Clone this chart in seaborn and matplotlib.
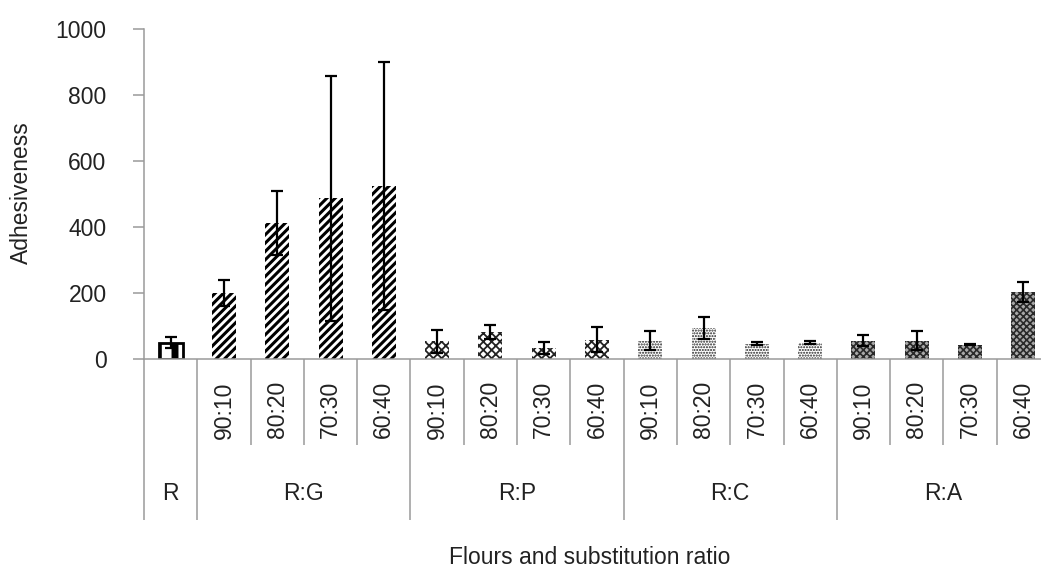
import matplotlib
matplotlib.use("Agg")
import matplotlib.pyplot as plt
import seaborn as sns
import pandas as pd
import numpy as np

# Flour groups and substitution ratios
groups = ["R", "R:G", "R:P", "R:C", "R:A"]
ratios = ["90:10", "80:20", "70:30", "60:40"]

# Adhesiveness means and standard deviations per bar (R first, then each blend)
r_mean, r_sd = [50], [17]
rg_mean, rg_sd = [200, 411, 487, 524], [40, 97, 371, 377]
rp_mean, rp_sd = [54, 83, 34, 58], [35, 21, 18, 38]
rc_mean, rc_sd = [56, 93, 46, 49], [30, 33, 5, 5]
ra_mean, ra_sd = [56, 56, 43, 203], [17, 29, 2, 30]

means = r_mean + rg_mean + rp_mean + rc_mean + ra_mean
sds = r_sd + rg_sd + rp_sd + rc_sd + ra_sd
keys = ["R"] + [f"{g} {r}" for g in groups[1:] for r in ratios]
grp_of = ["R"] + [g for g in groups[1:] for _ in ratios]
tick_text = [""] + ratios * 4

df = pd.DataFrame({"key": keys, "value": means, "sd": sds, "group": grp_of})

sns.set_theme(style="white")
plt.rcParams["font.family"] = ["Liberation Sans", "DejaVu Sans"]
plt.rcParams["hatch.linewidth"] = 1.5

GRAY = "#9a9a9a"
TXT = "#222222"
FS = 16.5

W, H = 1041, 570
fig = plt.figure(figsize=(W / 100, H / 100), dpi=100)
ax = fig.add_axes([144 / W, (H - 359) / H, (1050 - 144) / W, 330 / H])

sns.barplot(data=df, x="key", y="value", order=keys, errorbar=None,
            width=0.45, color="white", ax=ax)

# fill styles per flour group
styles = {
    "R":   dict(face="white", hatch="|", hlw=5.0, edge="black", lw=2.0),
    "R:G": dict(face="white", hatch="////", hlw=2.2, edge="black", lw=0),
    "R:P": dict(face="white", hatch="xxxx", hlw=1.3, edge="#222222", lw=0),
    "R:C": dict(face="white", hatch="......", hlw=1.0, edge="#222222", lw=0),
    "R:A": dict(face="#a8a8a8", hatch="xxxxx", hlw=1.2, edge="#2a2a2a", lw=0),
}
for patch, g in zip(ax.patches, grp_of):
    s = styles[g]
    patch.set_facecolor(s["face"])
    patch.set_edgecolor(s["edge"])
    patch.set_linewidth(s["lw"])
    patch.set_hatch(s["hatch"])
    try:
        patch.set_hatch_linewidth(s["hlw"])
    except AttributeError:
        pass

x = np.arange(len(keys))
ax.errorbar(x, df["value"], yerr=df["sd"], fmt="none", ecolor="black",
            elinewidth=1.6, capsize=4.3, capthick=1.6, zorder=5)

ax.set_xlim(-0.5, len(keys) - 0.5)
ax.set_ylim(0, 1000)
ax.set_yticks(range(0, 1001, 200))
ax.tick_params(axis="y", which="major", left=True, length=8, width=1.1,
               color=GRAY, pad=19, labelsize=FS, labelcolor=TXT)
ax.set_xticks(x)
ax.set_xticklabels(tick_text, rotation=90, fontsize=FS, color=TXT)
ax.tick_params(axis="x", length=0, pad=16)
ax.set_xlabel("")
ax.set_ylabel("")

for side in ["top", "right"]:
    ax.spines[side].set_visible(False)
for side in ["left", "bottom"]:
    ax.spines[side].set_color(GRAY)
    ax.spines[side].set_linewidth(1.1)

# category divider lines below the axis
trans = ax.get_xaxis_transform()
inner_bottom = (359 - 445) / 330
group_bottom = (359 - 520) / 330
group_edges = {0, 1, 5, 9, 13, 17}
for k in range(len(keys) + 1):
    xb = k - 0.5
    yb = group_bottom if k in group_edges else inner_bottom
    ax.plot([xb, xb], [0, yb], transform=trans, color=GRAY, lw=1.1,
            clip_on=False, solid_capstyle="butt")

# group labels
group_centers = [0, 2.5, 6.5, 10.5, 14.5]
for g, c in zip(groups, group_centers):
    ax.text(c, (359 - 493) / 330, g, transform=trans, ha="center",
            va="center", fontsize=FS, color=TXT)

fig.text(21 / W, 1 - 193 / H, "Adhesiveness", rotation=90, ha="center",
         va="center", fontsize=FS, color=TXT)
fig.text(590 / W, 1 - 558 / H, "Flours and substitution ratio", ha="center",
         va="center", fontsize=FS, color=TXT)

fig.savefig("out.png", dpi=100, facecolor="white")
